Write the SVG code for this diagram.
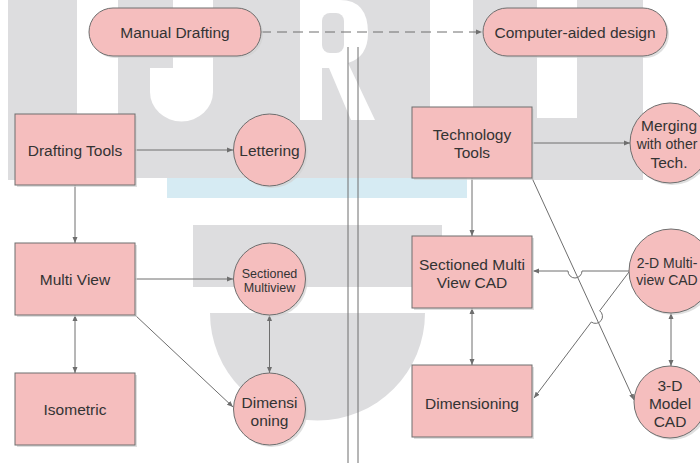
<svg xmlns="http://www.w3.org/2000/svg" width="700" height="463" viewBox="0 0 700 463">
<style>
.wm{fill:#dddddf}
.wh{fill:#ffffff}
.nd{fill:#f5bebe;stroke:#6e6e6e;stroke-width:1}
.sh{fill:#d2d2d2;opacity:0.7}
.t{font-family:"Liberation Sans",Arial,sans-serif;font-size:15.5px;fill:#333333;text-anchor:middle}
.ts{font-size:12.5px}
.tn{font-size:14px}
.ln{fill:none;stroke:#6e6e6e;stroke-width:1}
</style>
<defs>
<marker id="ah" markerUnits="userSpaceOnUse" markerWidth="6" markerHeight="6" refX="6" refY="3" orient="auto-start-reverse">
<path d="M0,0.5 L6,3 L0,5.5 Z" fill="#6e6e6e"/>
</marker>
</defs>
<rect width="700" height="463" fill="#ffffff"/>
<g id="watermark">
<rect class="wm" x="8" y="0" width="69" height="180"/>
<rect class="wm" x="118" y="0" width="312" height="178"/>
<path class="wh" d="M173,0 H213 V92 A31,29 0 0 1 150,92 V68 H173 Z"/>
<path class="wh" d="M300,0 H340 Q368,0 368,33 Q368,57 348,63 L375,120 H351 L329,68 H322 V120 H300 Z"/>
<rect class="wm" x="322" y="13" width="22" height="40" rx="8"/>
<rect class="wm" x="473" y="0" width="170" height="180"/>
<rect class="wh" x="537" y="0" width="40" height="118"/>
<rect x="167" y="178" width="300" height="20" fill="#d6ebf3"/>
<rect class="wm" x="193" y="225" width="249" height="62"/>
<path class="wm" d="M210,313 H425 A107.5,107.5 0 0 1 210,313 Z"/>
</g>
<g id="connectors">
<path class="ln" d="M261,32 H482" stroke-dasharray="10,6" marker-end="url(#ah)"/>
<path class="ln" d="M348,47 V463 M358,47 V463"/>
<path class="ln" d="M135,150 H233" marker-end="url(#ah)"/>
<path class="ln" d="M75,185 V243" marker-end="url(#ah)"/>
<path class="ln" d="M135,279 H233" marker-end="url(#ah)"/>
<path class="ln" d="M75,315 V373" marker-start="url(#ah)" marker-end="url(#ah)"/>
<path class="ln" d="M135,315 L233,407" marker-end="url(#ah)"/>
<path class="ln" d="M269.5,315 V373" marker-start="url(#ah)" marker-end="url(#ah)"/>
<path class="ln" d="M532,143 H630" marker-end="url(#ah)"/>
<path class="ln" d="M472,178 V236" marker-end="url(#ah)"/>
<path class="ln" d="M532,178 L634,400" marker-end="url(#ah)"/>
<path class="ln" d="M472,308 V365" marker-start="url(#ah)" marker-end="url(#ah)"/>
<path class="ln" d="M671,313 V366" marker-start="url(#ah)" marker-end="url(#ah)"/>
<path class="ln" d="M629,271 H582 A7,7 0 0 1 568,271 H533" marker-end="url(#ah)"/>
<path class="ln" d="M629,272 L599.7,310.8 A7,7 0 0 1 591.3,322 L534,398" marker-end="url(#ah)"/>
</g>
<g id="manual-drafting">
<rect class="sh" x="91" y="10" width="172" height="48" rx="24"/>
<rect class="nd" x="89" y="8" width="172" height="48" rx="24"/>
<text class="t" x="175" y="37.5">Manual Drafting</text>
</g>
<g id="computer-aided-design">
<rect class="sh" x="485" y="10" width="184" height="48" rx="24"/>
<rect class="nd" x="483" y="8" width="184" height="48" rx="24"/>
<text class="t" x="575" y="37.5">Computer-aided design</text>
</g>
<g id="drafting-tools">
<rect class="sh" x="17" y="116" width="120" height="71"/>
<rect class="nd" x="15" y="114" width="120" height="71"/>
<text class="t" x="75" y="155.5">Drafting Tools</text>
</g>
<g id="lettering">
<circle class="sh" cx="271.5" cy="152" r="36"/>
<circle class="nd" cx="269.5" cy="150" r="36"/>
<text class="t" x="269.5" y="155.5">Lettering</text>
</g>
<g id="multi-view">
<rect class="sh" x="17" y="245" width="120" height="72"/>
<rect class="nd" x="15" y="243" width="120" height="72"/>
<text class="t" x="75" y="284.5">Multi View</text>
</g>
<g id="sectioned-multiview">
<circle class="sh" cx="271.5" cy="281" r="36"/>
<circle class="nd" cx="269.5" cy="279" r="36"/>
<text class="t ts" x="269.5" y="277.5">Sectioned</text>
<text class="t ts" x="269.5" y="291.5">Multiview</text>
</g>
<g id="isometric">
<rect class="sh" x="17" y="375" width="120" height="72"/>
<rect class="nd" x="15" y="373" width="120" height="72"/>
<text class="t" x="75" y="414.5">Isometric</text>
</g>
<g id="dimensioning-left">
<circle class="sh" cx="271.5" cy="411" r="36"/>
<circle class="nd" cx="269.5" cy="409" r="36"/>
<text class="t" x="269.5" y="407.5">Dimensi</text>
<text class="t" x="269.5" y="425.5">oning</text>
</g>
<g id="technology-tools">
<rect class="sh" x="414" y="109" width="120" height="71"/>
<rect class="nd" x="412" y="107" width="120" height="71"/>
<text class="t" x="472" y="139.5">Technology</text>
<text class="t" x="472" y="157.5">Tools</text>
</g>
<g id="merging">
<circle class="sh" cx="672" cy="145" r="40"/>
<circle class="nd" cx="670" cy="143" r="40"/>
<text class="t" x="669" y="130.5">Merging</text>
<text class="t tn" x="667" y="148.5">with other</text>
<text class="t" x="669" y="167.5">Tech.</text>
</g>
<g id="sectioned-multi-view-cad">
<rect class="sh" x="414" y="238" width="120" height="72"/>
<rect class="nd" x="412" y="236" width="120" height="72"/>
<text class="t" x="472" y="269.5">Sectioned Multi</text>
<text class="t" x="472" y="287.5">View CAD</text>
</g>
<g id="dimensioning-right">
<rect class="sh" x="414" y="367" width="120" height="72"/>
<rect class="nd" x="412" y="365" width="120" height="72"/>
<text class="t" x="472" y="408.5">Dimensioning</text>
</g>
<g id="two-d-multiview-cad">
<circle class="sh" cx="673" cy="273" r="42"/>
<circle class="nd" cx="671" cy="271" r="42"/>
<text class="t tn" x="667" y="268">2-D Multi-</text>
<text class="t tn" x="667" y="285">view CAD</text>
</g>
<g id="three-d-model-cad">
<circle class="sh" cx="672" cy="404" r="36"/>
<circle class="nd" cx="670" cy="402" r="36"/>
<text class="t" x="670" y="390.5">3-D</text>
<text class="t" x="670" y="408.5">Model</text>
<text class="t" x="670" y="426.5">CAD</text>
</g>
</svg>
